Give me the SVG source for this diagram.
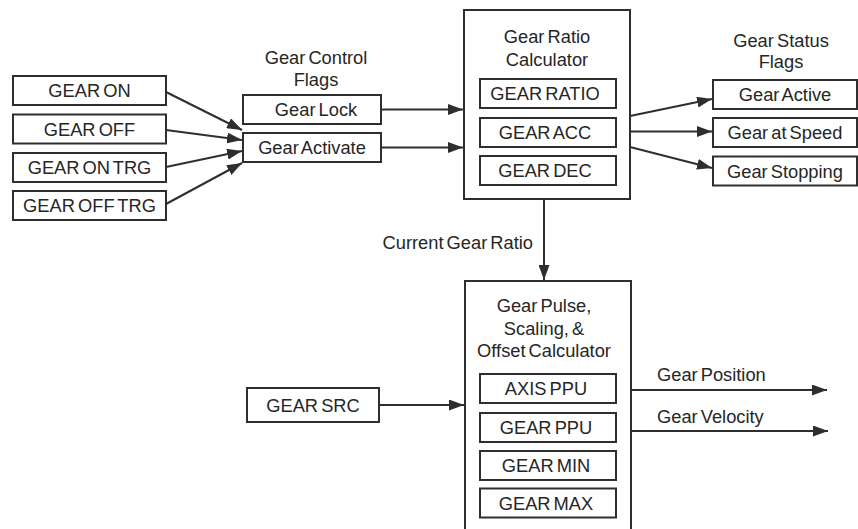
<svg xmlns="http://www.w3.org/2000/svg" width="858" height="529" viewBox="0 0 858 529">
<defs>
<style>
rect{fill:#fff;stroke:#2e2e2e;stroke-width:2}
.c line{stroke:#2e2e2e;stroke-width:2;marker-end:url(#ah)}
text{font-family:"Liberation Sans",Arial,sans-serif;font-size:18.3px;fill:#262626;word-spacing:-2px}
.m{text-anchor:middle}
</style>
<marker id="ah" markerUnits="userSpaceOnUse" markerWidth="15" markerHeight="11" viewBox="0 0 15 11" refX="15" refY="5.5" orient="auto">
<path d="M0,0 L15,5.5 L0,11 Z" fill="#2e2e2e"/>
</marker>
</defs>
<rect x="0" y="0" width="858" height="529" style="stroke:none;fill:#fff"/>

<g id="gear-on"><rect x="13" y="76" width="153" height="29"/><text class="m" x="89.5" y="97">GEAR ON</text></g>
<g id="gear-off"><rect x="13" y="114.5" width="153" height="29"/><text class="m" x="89.5" y="135.5">GEAR OFF</text></g>
<g id="gear-on-trg"><rect x="13" y="153" width="153" height="29"/><text class="m" x="89.5" y="174">GEAR ON TRG</text></g>
<g id="gear-off-trg"><rect x="13" y="191" width="153" height="29"/><text class="m" x="89.5" y="212">GEAR OFF TRG</text></g>

<g id="control-flags">
<text class="m" x="316" y="64">Gear Control</text>
<text class="m" x="316" y="86">Flags</text>
</g>
<g id="gear-lock"><rect x="243" y="95" width="138" height="29"/><text class="m" x="316" y="116">Gear Lock</text></g>
<g id="gear-activate"><rect x="243" y="133" width="138" height="29"/><text class="m" x="312" y="154">Gear Activate</text></g>

<g id="ratio-calc">
<rect x="464" y="10" width="166" height="189"/>
<text class="m" x="547" y="43">Gear Ratio</text>
<text class="m" x="547" y="66">Calculator</text>
</g>
<g id="gear-ratio"><rect x="480" y="79" width="136" height="29"/><text class="m" x="545" y="100">GEAR RATIO</text></g>
<g id="gear-acc"><rect x="480" y="118" width="136" height="29"/><text class="m" x="545" y="139">GEAR ACC</text></g>
<g id="gear-dec"><rect x="480" y="156" width="136" height="29"/><text class="m" x="545" y="177">GEAR DEC</text></g>

<g id="status-flags">
<text class="m" x="781" y="47">Gear Status</text>
<text class="m" x="781" y="68">Flags</text>
</g>
<g id="gear-active"><rect x="713" y="80" width="144" height="29"/><text class="m" x="785" y="101">Gear Active</text></g>
<g id="gear-at-speed"><rect x="713" y="118" width="144" height="29"/><text class="m" x="785" y="139">Gear at Speed</text></g>
<g id="gear-stopping"><rect x="713" y="156.5" width="144" height="29"/><text class="m" x="785" y="177.5">Gear Stopping</text></g>

<g id="pulse-calc">
<rect x="465" y="281" width="166" height="260"/>
<text class="m" x="544" y="312">Gear Pulse,</text>
<text class="m" x="544" y="335">Scaling, &amp;</text>
<text class="m" x="544" y="357">Offset Calculator</text>
</g>
<g id="axis-ppu"><rect x="480" y="374" width="136" height="29"/><text class="m" x="546" y="395">AXIS PPU</text></g>
<g id="gear-ppu"><rect x="480" y="413" width="136" height="29"/><text class="m" x="546" y="434">GEAR PPU</text></g>
<g id="gear-min"><rect x="480" y="451" width="136" height="29"/><text class="m" x="546" y="472">GEAR MIN</text></g>
<g id="gear-max"><rect x="480" y="488.5" width="136" height="29"/><text class="m" x="546" y="509.5">GEAR MAX</text></g>

<g id="gear-src"><rect x="247" y="388" width="132" height="34"/><text class="m" x="313" y="411.5">GEAR SRC</text></g>

<g class="c" id="connectors">
<line x1="166" y1="92" x2="242" y2="130"/>
<line x1="166" y1="130" x2="242" y2="140"/>
<line x1="166" y1="167" x2="242" y2="151"/>
<line x1="166" y1="204" x2="242" y2="163"/>
<line x1="381" y1="109.5" x2="463" y2="109.5"/>
<line x1="381" y1="147.5" x2="463" y2="147.5"/>
<line x1="630" y1="116" x2="712" y2="99"/>
<line x1="630" y1="131.5" x2="712" y2="131.5"/>
<line x1="630" y1="147" x2="712" y2="168"/>
<line x1="544" y1="199" x2="544" y2="280"/>
<line x1="379" y1="405" x2="464" y2="405"/>
<line x1="631" y1="390" x2="827" y2="390"/>
<line x1="631" y1="431" x2="828" y2="431"/>
</g>
<g id="connector-labels">
<text x="533" y="249" style="text-anchor:end">Current Gear Ratio</text>
<text x="657" y="381">Gear Position</text>
<text x="657" y="423">Gear Velocity</text>
</g>
</svg>
